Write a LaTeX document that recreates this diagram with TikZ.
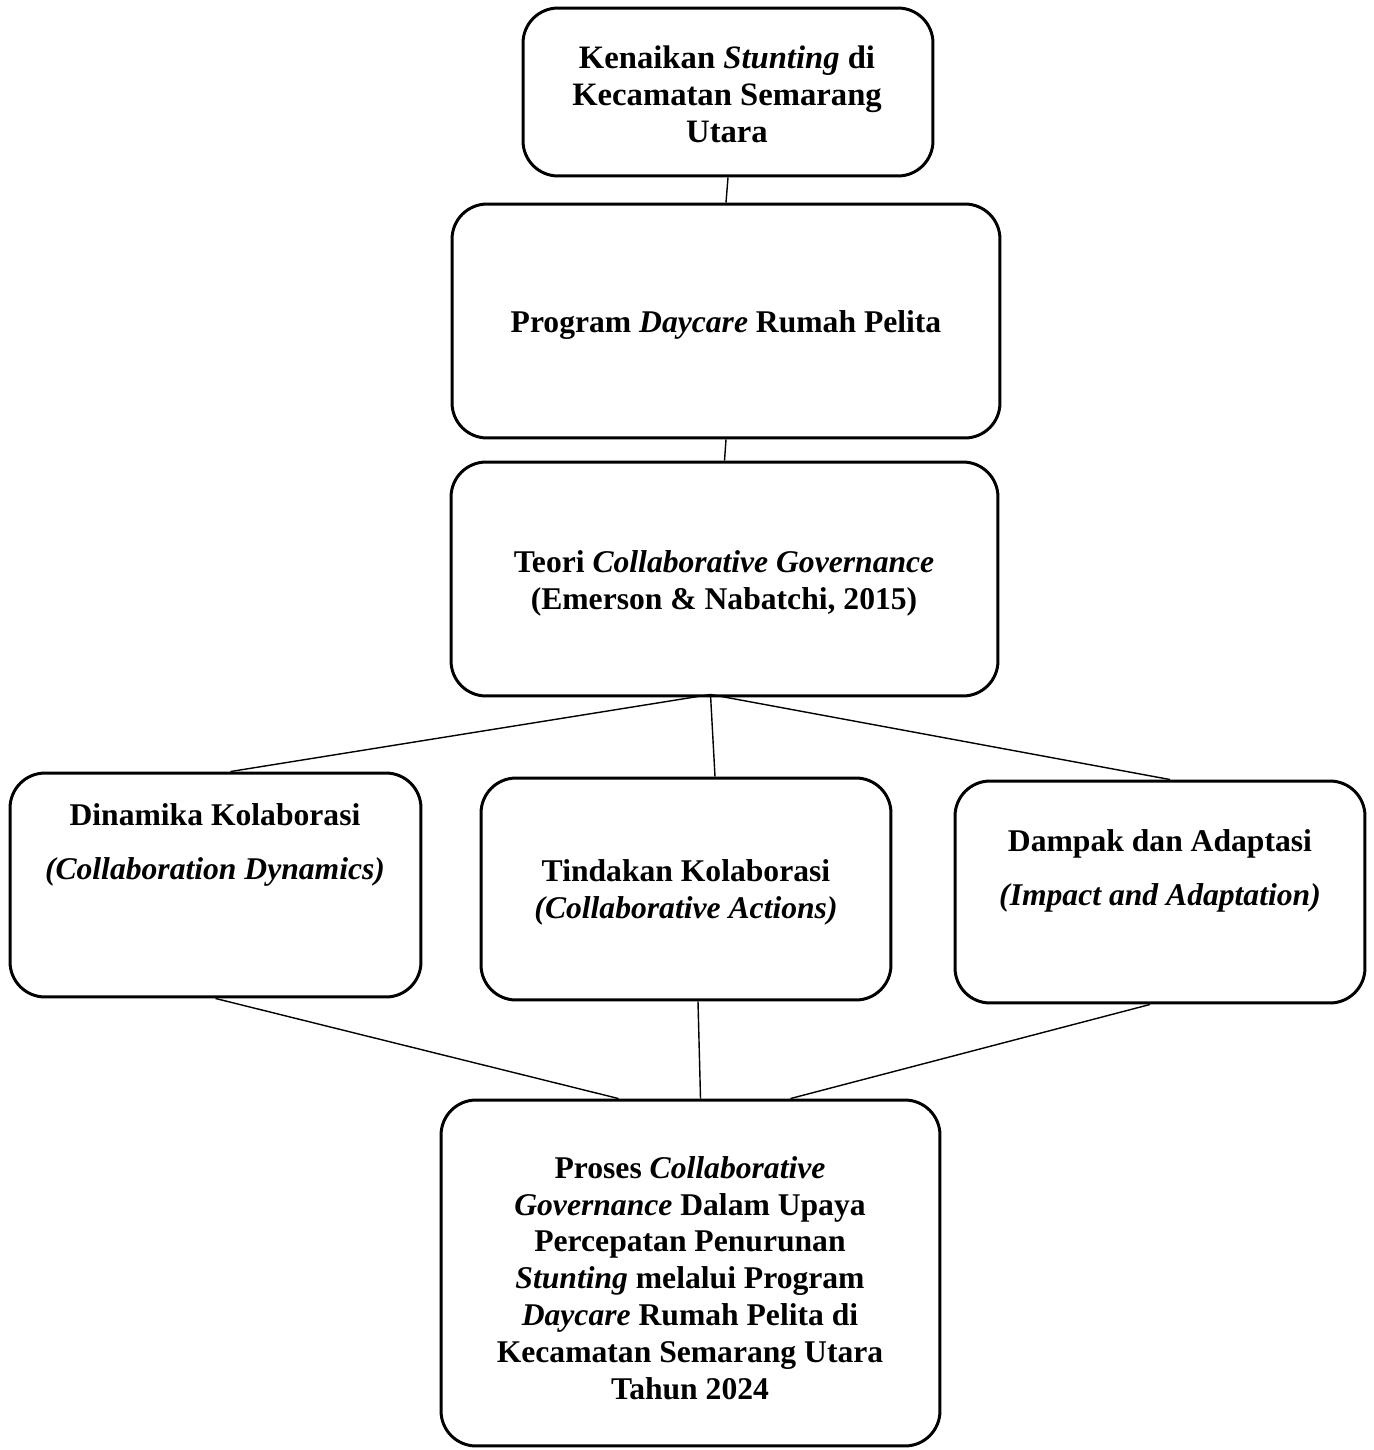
\documentclass[tikz,border=0pt]{standalone}
\usepackage{fontspec}
\setmainfont{Liberation Serif}
\usetikzlibrary{calc}
\begin{document}
\begin{tikzpicture}[x=0.02cm,y=-0.02cm,
    box/.style={draw,line width=1.7pt,rounded corners=0.7cm,inner sep=0pt},
    txt/.style={align=center,inner sep=0pt,font=\bfseries\fontsize{18}{21}\selectfont},
    link/.style={line width=0.8pt}]
    \useasboundingbox (0,0) rectangle (1373,1450);

    % Boxes
    \node[box,minimum width=8.2cm,minimum height=3.36cm] (kenaikan) at (728,92) {};
    \node[box,minimum width=10.96cm,minimum height=4.68cm] (program) at (726,321) {};
    \node[box,minimum width=10.94cm,minimum height=4.68cm] (teori) at (724.5,579) {};
    \node[box,minimum width=8.22cm,minimum height=4.48cm] (dinamika) at (215.5,885) {};
    \node[box,minimum width=8.2cm,minimum height=4.44cm] (tindakan) at (686,889) {};
    \node[box,minimum width=8.2cm,minimum height=4.44cm] (dampak) at (1160,892) {};
    \node[box,minimum width=9.98cm,minimum height=6.92cm] (proses) at (690.5,1273) {};

    % Texts
    \node[txt,font=\bfseries\fontsize{18.6}{21}\selectfont] (kenaikanT) at (727,94) {Kenaikan \textit{Stunting} di\\Kecamatan Semarang\\Utara};
    \node[txt] (programT) at (726,325) {Program \textit{Daycare} Rumah Pelita};
    \node[txt] (teoriT) at (724,583) {Teori \textit{Collaborative Governance}\\(Emerson \& Nabatchi, 2015)};
    \node[txt] (dinamikaT) at (215,845) {Dinamika Kolaborasi\\[10pt]\textit{(Collaboration Dynamics)}};
    \node[txt] (tindakanT) at (686,892) {Tindakan Kolaborasi\\\textit{(Collaborative Actions)}};
    \node[txt] (dampakT) at (1160,871) {Dampak dan Adaptasi\\[10pt]\textit{(Impact and Adaptation)}};
    \node[txt] (prosesT) at (690,1278) {Proses \textit{Collaborative}\\\textit{Governance} Dalam Upaya\\Percepatan Penurunan\\\textit{Stunting} melalui Program\\\textit{Daycare} Rumah Pelita di\\Kecamatan Semarang Utara\\Tahun 2024};

    % Connection points
    \coordinate (teoriB) at ($(teori.south)+(-14,-3)$);
    \coordinate (dinamikaA) at ($(dinamika.north)+(15,0)$);
    \coordinate (tindakanA) at ($(tindakan.north)+(29,0)$);
    \coordinate (dampakA) at ($(dampak.north)+(10,0)$);
    \coordinate (tindakanB) at ($(tindakan.south)+(12,0)$);
    \coordinate (dampakB) at ($(dampak.south)+(-10,0)$);
    \coordinate (prosesA) at ($(proses.north)+(-72,0)$);
    \coordinate (prosesB) at ($(proses.north)+(10,0)$);
    \coordinate (prosesC) at ($(proses.north)+(100,0)$);

    % Lines
    \draw[link] (kenaikan.south) -- (program.north);
    \draw[link] (program.south) -- (teori.north);
    \draw[link] (teoriB) -- (dinamikaA);
    \draw[link] (teoriB) -- (tindakanA);
    \draw[link] (teoriB) -- (dampakA);
    \draw[link] (dinamika.south) -- (prosesA);
    \draw[link] (tindakanB) -- (prosesB);
    \draw[link] (dampakB) -- (prosesC);
\end{tikzpicture}
\end{document}
